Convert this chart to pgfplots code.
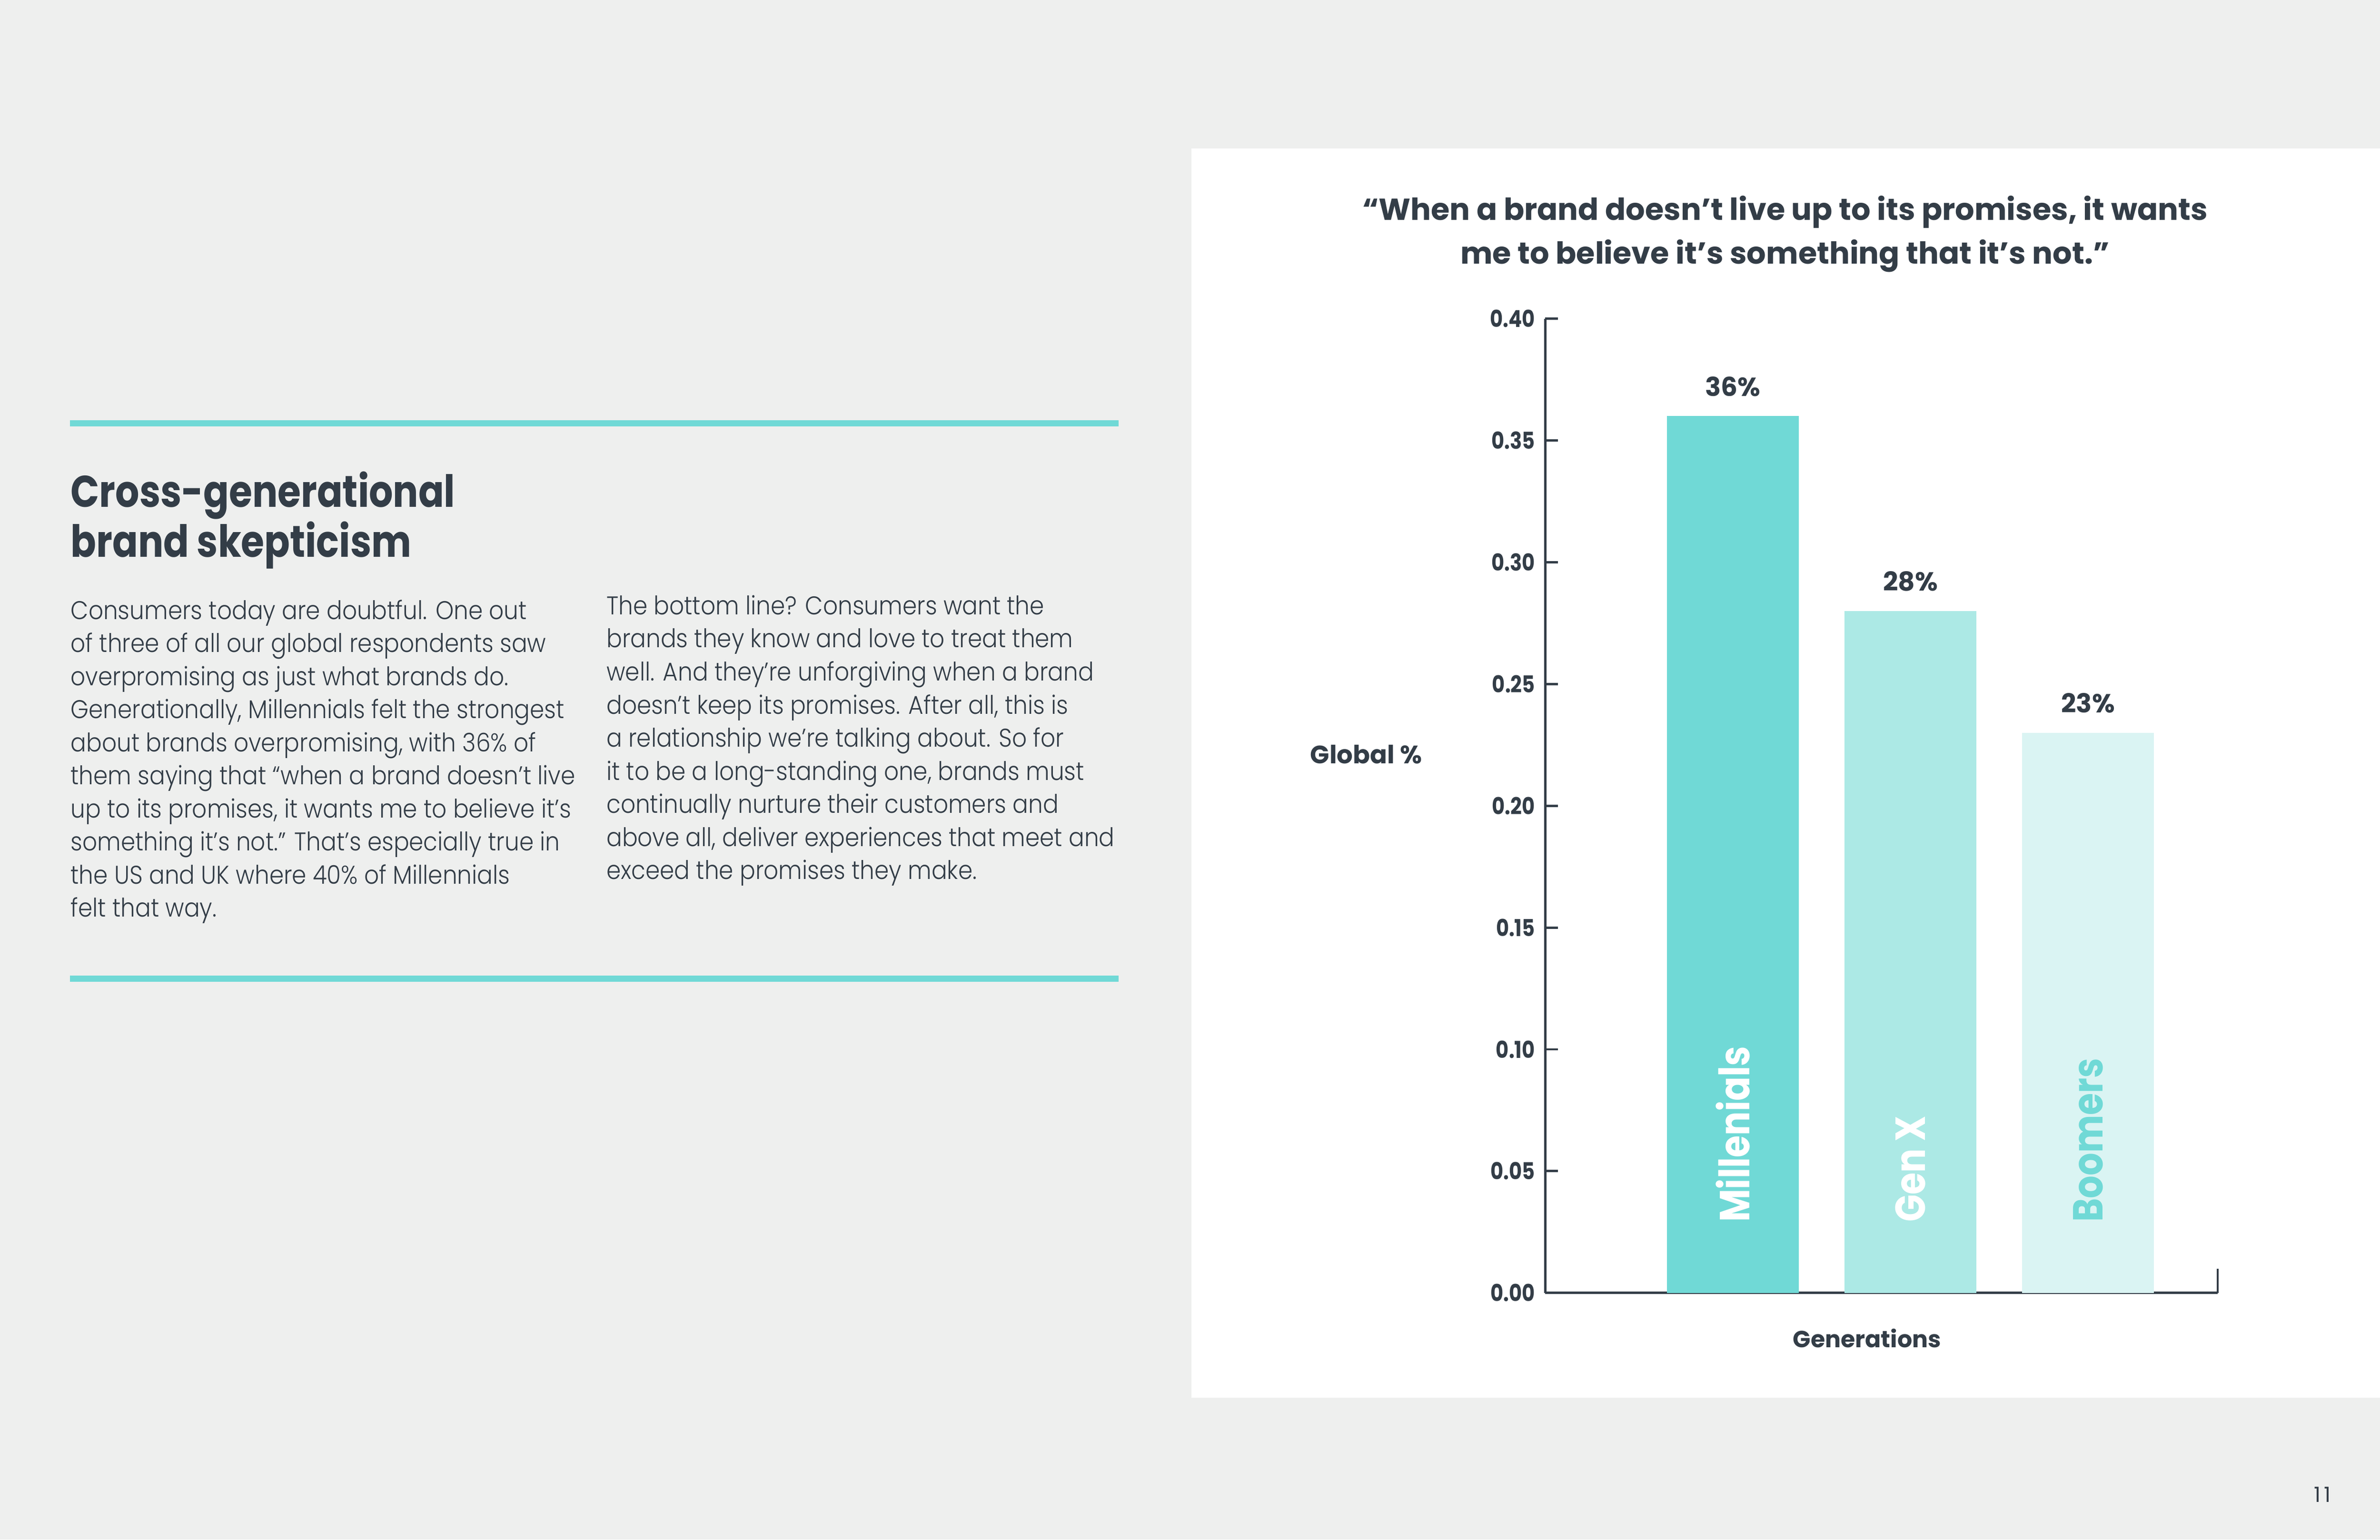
\documentclass[border=0pt]{standalone}
\usepackage{pgfplots}
\pgfplotsset{compat=1.18}
\usepackage{fontspec}
\setmainfont{Poppins}
\newfontfamily\bodyfont[FakeStretch=0.9]{Poppins Light}
\newfontfamily\hf[FakeStretch=0.85]{Poppins}
\newfontfamily\hfw{Poppins}

\definecolor{dark}{HTML}{333D47}
\definecolor{bg}{HTML}{EEEFEE}
\definecolor{teal1}{HTML}{70D9D6}
\definecolor{teal2}{HTML}{ACE9E5}
\definecolor{teal3}{HTML}{DAF4F3}

\begin{document}
\begin{tikzpicture}
% page, in units of the 1568 px wide preview
\begin{scope}[x=0.32526bp,y=-0.32526bp]
  \fill[bg] (0,0) rectangle (1568,1014.6);
  \fill[white] (785,98) rectangle (1568,921);
  \fill[teal1] (46,277) rectangle (737,281);
  \fill[teal1] (46,643) rectangle (737,647);

  \node[anchor=base west,inner sep=0pt,text=dark,font=\hf\bfseries\fontsize{9.5bp}{11bp}\selectfont] at (46,334) {Cross-generational};
  \node[anchor=base west,inner sep=0pt,text=dark,font=\hf\bfseries\fontsize{9.5bp}{11bp}\selectfont] at (46,367) {brand skepticism};

  \foreach \t [count=\i] in {
    {Consumers today are doubtful. One out},
    {of three of all our global respondents saw},
    {overpromising as just what brands do.},
    {Generationally, Millennials felt the strongest},
    {about brands overpromising, with 36\% of},
    {them saying that “when a brand doesn’t live},
    {up to its promises, it wants me to believe it’s},
    {something it’s not.” That’s especially true in},
    {the US and UK where 40\% of Millennials},
    {felt that way.}}
    \node[anchor=base west,inner sep=0pt,text=dark,font=\bodyfont\fontsize{5.5bp}{7bp}\selectfont] at (46,{408+21.8*(\i-1)}) {\t};

  \foreach \t [count=\i] in {
    {The bottom line? Consumers want the},
    {brands they know and love to treat them},
    {well. And they’re unforgiving when a brand},
    {doesn’t keep its promises. After all, this is},
    {a relationship we’re talking about. So for},
    {it to be a long-standing one, brands must},
    {continually nurture their customers and},
    {above all, deliver experiences that meet and},
    {exceed the promises they make.}}
    \node[anchor=base west,inner sep=0pt,text=dark,font=\bodyfont\fontsize{5.5bp}{7bp}\selectfont] at (399,{405+21.8*(\i-1)}) {\t};

  \node[anchor=base,inner sep=0pt,text=dark,font=\hfw\bfseries\fontsize{6.5bp}{7bp}\selectfont] at (1176,145) {“When a brand doesn’t live up to its promises, it wants};
  \node[anchor=base,inner sep=0pt,text=dark,font=\hfw\bfseries\fontsize{6.5bp}{7bp}\selectfont] at (1176,174) {me to believe it’s something that it’s not.”};

  \node[inner sep=0pt,text=dark,font=\hfw\bfseries\fontsize{5.4bp}{6bp}\selectfont] at (900,497) {Global \%};
  \node[inner sep=0pt,text=dark,font=\hfw\bfseries\fontsize{5bp}{6bp}\selectfont] at (1230,882) {Generations};

  \node[inner sep=0pt,text=dark,font=\hfw\fontsize{4.5bp}{5bp}\selectfont] at (1530,985) {1\,1};
\end{scope}

\begin{axis}[
  at={(331.1bp,-277.1bp)}, anchor=south west,
  scale only axis, width=144.1bp, height=208.8bp,
  xmin=-1.056, xmax=2.73, ymin=0, ymax=0.4,
  axis x line*=bottom, axis y line*=left,
  axis line style={draw=dark,line width=0.5bp,-},
  xtick=\empty,
  extra x ticks={2.73}, extra x tick labels={},
  extra x tick style={major tick length=5.2bp},
  ytick={0,0.05,0.1,0.15,0.2,0.25,0.3,0.35,0.4},
  ytick pos=left,
  tick align=inside, major tick length=2.7bp,
  tick style={draw=dark,line width=0.5bp},
  yticklabel style={font=\hf\bfseries\fontsize{5bp}{6bp}\selectfont,text=dark,inner sep=0pt,xshift=-2bp},
  /pgf/number format/.cd, fixed, fixed zerofill, precision=2, assume math mode=true,
  /pgfplots/.cd,
  clip=false,
  every node near coord/.append style={font=\hfw\bfseries\fontsize{5.6bp}{6bp}\selectfont,text=dark,inner sep=0pt,yshift=4bp},
]
\addplot[ybar,bar width=28.3bp,bar shift=0pt,fill=teal1,draw=none,
  nodes near coords,point meta=explicit symbolic] coordinates {(0,0.36) [36\%]};
\addplot[ybar,bar width=28.3bp,bar shift=0pt,fill=teal2,draw=none,
  nodes near coords,point meta=explicit symbolic] coordinates {(1,0.28) [28\%]};
\addplot[ybar,bar width=28.3bp,bar shift=0pt,fill=teal3,draw=none,
  nodes near coords,point meta=explicit symbolic] coordinates {(2,0.23) [23\%]};

\node[rotate=90,anchor=west,inner sep=0pt,text=white,font=\hf\bfseries\fontsize{9bp}{10bp}\selectfont] at (axis cs:0,0.0287) {Millenials};
\node[rotate=90,anchor=west,inner sep=0pt,text=white,font=\hf\bfseries\fontsize{9bp}{10bp}\selectfont] at (axis cs:1,0.0287) {Gen X};
\node[rotate=90,anchor=west,inner sep=0pt,text=teal1,font=\hf\bfseries\fontsize{9bp}{10bp}\selectfont] at (axis cs:2,0.0287) {Boomers};
\end{axis}
\end{tikzpicture}
\end{document}
